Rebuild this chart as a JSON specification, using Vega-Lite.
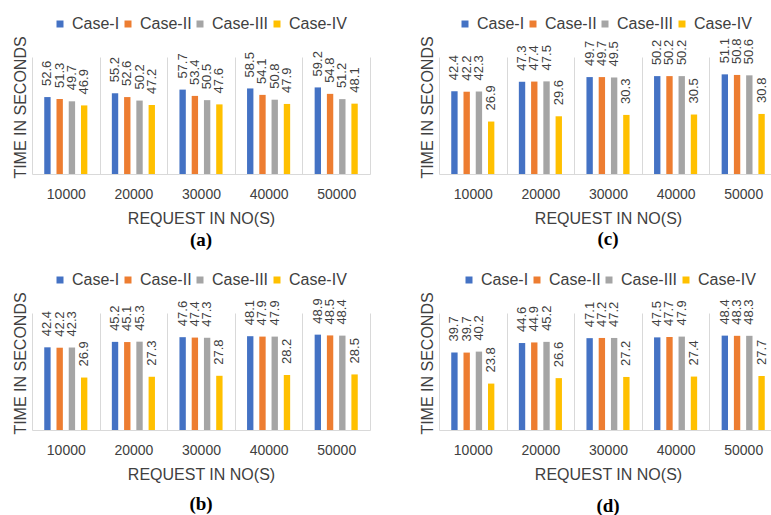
{
  "$schema": "https://vega.github.io/schema/vega-lite/v6.json",
  "padding": {"left": 11, "top": 16, "right": 0, "bottom": 0},
  "background": "white",
  "config": {
    "font": "Liberation Sans",
    "view": {"stroke": null},
    "legend": {"title": null, "orient": "none", "direction": "horizontal", "symbolType": "square", "symbolSize": 49, "symbolStrokeWidth": 0, "labelFontSize": 16, "labelColor": "#404040", "labelOffset": 4, "columnPadding": -4, "legendY": -41},
    "axisX": {"titleFontSize": 16, "titleFontWeight": "normal", "titleColor": "#404040", "titlePadding": 9, "labelFontSize": 14, "labelColor": "#404040", "labelAngle": 0, "labelPadding": 13, "ticks": false, "tickSize": 0, "domainColor": "#d9d9d9", "grid": true, "gridColor": "#d9d9d9", "tickBand": "extent"},
    "axisY": {"titleFontSize": 16, "titleFontWeight": "normal", "titleColor": "#404040", "titlePadding": 4, "titleY": 50, "labels": false, "ticks": false, "domain": false, "grid": false},
    "title": {"orient": "bottom", "frame": "group", "font": "Liberation Serif", "fontWeight": "bold", "fontSize": 19, "color": "#000000"}
  },
  "data": {
    "values": [
      {"panel": "a", "request": "10000", "case": "Case-I", "time": 52.6},
      {"panel": "a", "request": "10000", "case": "Case-II", "time": 51.3},
      {"panel": "a", "request": "10000", "case": "Case-III", "time": 49.7},
      {"panel": "a", "request": "10000", "case": "Case-IV", "time": 46.9},
      {"panel": "a", "request": "20000", "case": "Case-I", "time": 55.2},
      {"panel": "a", "request": "20000", "case": "Case-II", "time": 52.6},
      {"panel": "a", "request": "20000", "case": "Case-III", "time": 50.2},
      {"panel": "a", "request": "20000", "case": "Case-IV", "time": 47.2},
      {"panel": "a", "request": "30000", "case": "Case-I", "time": 57.7},
      {"panel": "a", "request": "30000", "case": "Case-II", "time": 53.4},
      {"panel": "a", "request": "30000", "case": "Case-III", "time": 50.5},
      {"panel": "a", "request": "30000", "case": "Case-IV", "time": 47.6},
      {"panel": "a", "request": "40000", "case": "Case-I", "time": 58.5},
      {"panel": "a", "request": "40000", "case": "Case-II", "time": 54.1},
      {"panel": "a", "request": "40000", "case": "Case-III", "time": 50.8},
      {"panel": "a", "request": "40000", "case": "Case-IV", "time": 47.9},
      {"panel": "a", "request": "50000", "case": "Case-I", "time": 59.2},
      {"panel": "a", "request": "50000", "case": "Case-II", "time": 54.8},
      {"panel": "a", "request": "50000", "case": "Case-III", "time": 51.2},
      {"panel": "a", "request": "50000", "case": "Case-IV", "time": 48.1},
      {"panel": "b", "request": "10000", "case": "Case-I", "time": 42.4},
      {"panel": "b", "request": "10000", "case": "Case-II", "time": 42.2},
      {"panel": "b", "request": "10000", "case": "Case-III", "time": 42.3},
      {"panel": "b", "request": "10000", "case": "Case-IV", "time": 26.9},
      {"panel": "b", "request": "20000", "case": "Case-I", "time": 45.2},
      {"panel": "b", "request": "20000", "case": "Case-II", "time": 45.1},
      {"panel": "b", "request": "20000", "case": "Case-III", "time": 45.3},
      {"panel": "b", "request": "20000", "case": "Case-IV", "time": 27.3},
      {"panel": "b", "request": "30000", "case": "Case-I", "time": 47.6},
      {"panel": "b", "request": "30000", "case": "Case-II", "time": 47.4},
      {"panel": "b", "request": "30000", "case": "Case-III", "time": 47.3},
      {"panel": "b", "request": "30000", "case": "Case-IV", "time": 27.8},
      {"panel": "b", "request": "40000", "case": "Case-I", "time": 48.1},
      {"panel": "b", "request": "40000", "case": "Case-II", "time": 47.9},
      {"panel": "b", "request": "40000", "case": "Case-III", "time": 47.9},
      {"panel": "b", "request": "40000", "case": "Case-IV", "time": 28.2},
      {"panel": "b", "request": "50000", "case": "Case-I", "time": 48.9},
      {"panel": "b", "request": "50000", "case": "Case-II", "time": 48.5},
      {"panel": "b", "request": "50000", "case": "Case-III", "time": 48.4},
      {"panel": "b", "request": "50000", "case": "Case-IV", "time": 28.5},
      {"panel": "c", "request": "10000", "case": "Case-I", "time": 42.4},
      {"panel": "c", "request": "10000", "case": "Case-II", "time": 42.2},
      {"panel": "c", "request": "10000", "case": "Case-III", "time": 42.3},
      {"panel": "c", "request": "10000", "case": "Case-IV", "time": 26.9},
      {"panel": "c", "request": "20000", "case": "Case-I", "time": 47.3},
      {"panel": "c", "request": "20000", "case": "Case-II", "time": 47.4},
      {"panel": "c", "request": "20000", "case": "Case-III", "time": 47.5},
      {"panel": "c", "request": "20000", "case": "Case-IV", "time": 29.6},
      {"panel": "c", "request": "30000", "case": "Case-I", "time": 49.7},
      {"panel": "c", "request": "30000", "case": "Case-II", "time": 49.7},
      {"panel": "c", "request": "30000", "case": "Case-III", "time": 49.5},
      {"panel": "c", "request": "30000", "case": "Case-IV", "time": 30.3},
      {"panel": "c", "request": "40000", "case": "Case-I", "time": 50.2},
      {"panel": "c", "request": "40000", "case": "Case-II", "time": 50.2},
      {"panel": "c", "request": "40000", "case": "Case-III", "time": 50.2},
      {"panel": "c", "request": "40000", "case": "Case-IV", "time": 30.5},
      {"panel": "c", "request": "50000", "case": "Case-I", "time": 51.1},
      {"panel": "c", "request": "50000", "case": "Case-II", "time": 50.8},
      {"panel": "c", "request": "50000", "case": "Case-III", "time": 50.6},
      {"panel": "c", "request": "50000", "case": "Case-IV", "time": 30.8},
      {"panel": "d", "request": "10000", "case": "Case-I", "time": 39.7},
      {"panel": "d", "request": "10000", "case": "Case-II", "time": 39.7},
      {"panel": "d", "request": "10000", "case": "Case-III", "time": 40.2},
      {"panel": "d", "request": "10000", "case": "Case-IV", "time": 23.8},
      {"panel": "d", "request": "20000", "case": "Case-I", "time": 44.6},
      {"panel": "d", "request": "20000", "case": "Case-II", "time": 44.9},
      {"panel": "d", "request": "20000", "case": "Case-III", "time": 45.2},
      {"panel": "d", "request": "20000", "case": "Case-IV", "time": 26.6},
      {"panel": "d", "request": "30000", "case": "Case-I", "time": 47.1},
      {"panel": "d", "request": "30000", "case": "Case-II", "time": 47.2},
      {"panel": "d", "request": "30000", "case": "Case-III", "time": 47.2},
      {"panel": "d", "request": "30000", "case": "Case-IV", "time": 27.2},
      {"panel": "d", "request": "40000", "case": "Case-I", "time": 47.5},
      {"panel": "d", "request": "40000", "case": "Case-II", "time": 47.7},
      {"panel": "d", "request": "40000", "case": "Case-III", "time": 47.9},
      {"panel": "d", "request": "40000", "case": "Case-IV", "time": 27.4},
      {"panel": "d", "request": "50000", "case": "Case-I", "time": 48.4},
      {"panel": "d", "request": "50000", "case": "Case-II", "time": 48.3},
      {"panel": "d", "request": "50000", "case": "Case-III", "time": 48.3},
      {"panel": "d", "request": "50000", "case": "Case-IV", "time": 27.7}
    ]
  },
  "columns": 2,
  "spacing": {"row": 139, "column": 69},
  "bounds": "flush",
  "resolve": {"scale": {"color": "independent"}, "legend": {"color": "independent"}},
  "concat": [
    {
      "width": 338, "height": 117,
      "title": {"text": "(a)", "offset": 5},
      "transform": [{"filter": "datum.panel === 'a'"}],
      "encoding": {
        "x": {"field": "request", "type": "nominal", "scale": {"paddingInner": 0, "paddingOuter": 0}, "axis": {"title": "REQUEST IN NO(S)"}},
        "xOffset": {"field": "case", "type": "nominal", "scale": {"paddingInner": 0.48, "paddingOuter": 1.15}},
        "y": {"field": "time", "type": "quantitative", "scale": {"domain": [0, 80]}, "axis": {"title": "TIME IN SECONDS"}}
      },
      "layer": [
        {"mark": {"type": "bar"},
          "encoding": {"color": {"field": "case", "type": "nominal",
            "scale": {"domain": ["Case-I", "Case-II", "Case-III", "Case-IV"], "range": ["#4472C4", "#ED7D31", "#A5A5A5", "#FFC000"]},
            "legend": {"legendX": 20}}}},
        {"mark": {"type": "text", "angle": 270, "align": "left", "baseline": "middle", "dx": 11, "fontSize": 13, "color": "#404040"},
          "encoding": {"text": {"field": "time", "type": "quantitative", "format": ".1f"}}}
      ]
    },
    {
      "width": 338, "height": 117,
      "title": {"text": "(c)", "offset": 4},
      "transform": [{"filter": "datum.panel === 'c'"}],
      "encoding": {
        "x": {"field": "request", "type": "nominal", "scale": {"paddingInner": 0, "paddingOuter": 0}, "axis": {"title": "REQUEST IN NO(S)"}},
        "xOffset": {"field": "case", "type": "nominal", "scale": {"paddingInner": 0.48, "paddingOuter": 1.15}},
        "y": {"field": "time", "type": "quantitative", "scale": {"domain": [0, 60]}, "axis": {"title": "TIME IN SECONDS"}}
      },
      "layer": [
        {"mark": {"type": "bar"},
          "encoding": {"color": {"field": "case", "type": "nominal",
            "scale": {"domain": ["Case-I", "Case-II", "Case-III", "Case-IV"], "range": ["#4472C4", "#ED7D31", "#A5A5A5", "#FFC000"]},
            "legend": {"legendX": 18}}}},
        {"mark": {"type": "text", "angle": 270, "align": "left", "baseline": "middle", "dx": 11, "fontSize": 13, "color": "#404040"},
          "encoding": {"text": {"field": "time", "type": "quantitative", "format": ".1f"}}}
      ]
    },
    {
      "width": 338, "height": 117,
      "title": {"text": "(b)", "offset": 13},
      "transform": [{"filter": "datum.panel === 'b'"}],
      "encoding": {
        "x": {"field": "request", "type": "nominal", "scale": {"paddingInner": 0, "paddingOuter": 0}, "axis": {"title": "REQUEST IN NO(S)"}},
        "xOffset": {"field": "case", "type": "nominal", "scale": {"paddingInner": 0.48, "paddingOuter": 1.15}},
        "y": {"field": "time", "type": "quantitative", "scale": {"domain": [0, 60]}, "axis": {"title": "TIME IN SECONDS"}}
      },
      "layer": [
        {"mark": {"type": "bar"},
          "encoding": {"color": {"field": "case", "type": "nominal",
            "scale": {"domain": ["Case-I", "Case-II", "Case-III", "Case-IV"], "range": ["#4472C4", "#ED7D31", "#A5A5A5", "#FFC000"]},
            "legend": {"legendX": 20}}}},
        {"mark": {"type": "text", "angle": 270, "align": "left", "baseline": "middle", "dx": 11, "fontSize": 13, "color": "#404040"},
          "encoding": {"text": {"field": "time", "type": "quantitative", "format": ".1f"}}}
      ]
    },
    {
      "width": 338, "height": 117,
      "title": {"text": "(d)", "offset": 15},
      "transform": [{"filter": "datum.panel === 'd'"}],
      "encoding": {
        "x": {"field": "request", "type": "nominal", "scale": {"paddingInner": 0, "paddingOuter": 0}, "axis": {"title": "REQUEST IN NO(S)"}},
        "xOffset": {"field": "case", "type": "nominal", "scale": {"paddingInner": 0.48, "paddingOuter": 1.15}},
        "y": {"field": "time", "type": "quantitative", "scale": {"domain": [0, 60]}, "axis": {"title": "TIME IN SECONDS"}}
      },
      "layer": [
        {"mark": {"type": "bar"},
          "encoding": {"color": {"field": "case", "type": "nominal",
            "scale": {"domain": ["Case-I", "Case-II", "Case-III", "Case-IV"], "range": ["#4472C4", "#ED7D31", "#A5A5A5", "#FFC000"]},
            "legend": {"legendX": 22}}}},
        {"mark": {"type": "text", "angle": 270, "align": "left", "baseline": "middle", "dx": 11, "fontSize": 13, "color": "#404040"},
          "encoding": {"text": {"field": "time", "type": "quantitative", "format": ".1f"}}}
      ]
    }
  ]
}
